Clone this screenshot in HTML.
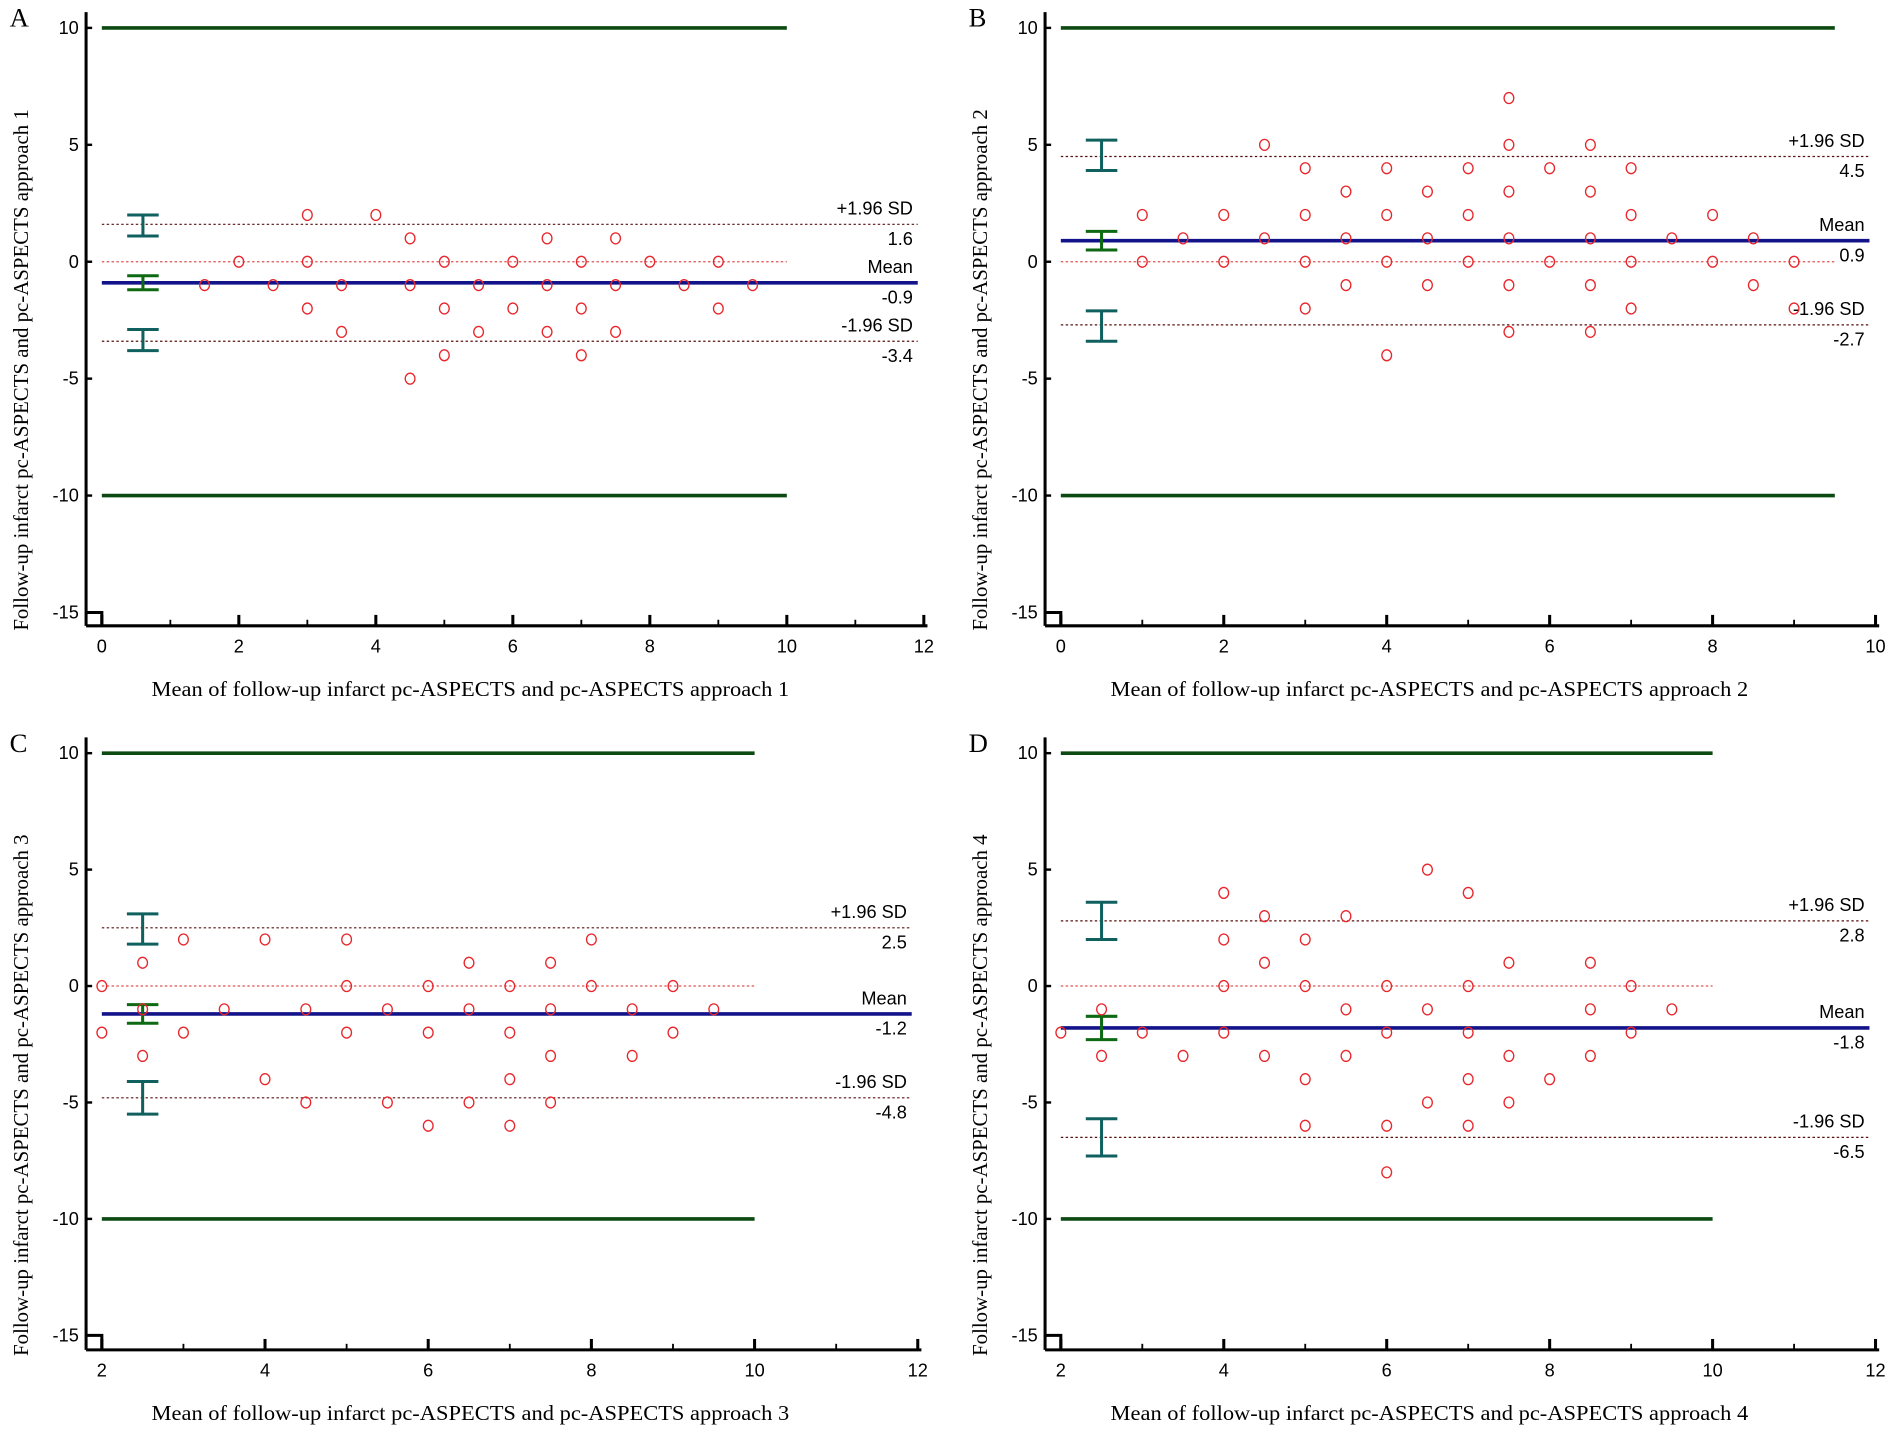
<!DOCTYPE html>
<html><head><meta charset="utf-8"><style>
html,body{margin:0;padding:0;background:#fff;}
svg{display:block;}
</style></head><body>
<svg id="fig" width="1901" height="1436" viewBox="0 0 1568 1184" preserveAspectRatio="none" xmlns="http://www.w3.org/2000/svg"></svg>
<script>
// ---- Data ----
const aX=[1.5,2,2.5,3,3,3,3.5,3.5,4,4.5,4.5,4.5,5,5,5,5.5,5.5,6,6,6.5,6.5,6.5,7,7,7,7.5,7.5,7.5,8,8.5,9,9,9.5];
const aY=[-1,0,-1,2,0,-2,-1,-3,2,1,-1,-5,0,-2,-4,-1,-3,0,-2,1,-1,-3,0,-2,-4,1,-1,-3,0,-1,0,-2,-1];
const bX=[1,1,1.5,2,2,2.5,2.5,3,3,3,3,3.5,3.5,3.5,4,4,4,4,4.5,4.5,4.5,5,5,5,5.5,5.5,5.5,5.5,5.5,5.5,6,6,6.5,6.5,6.5,6.5,6.5,7,7,7,7,7.5,8,8,8.5,8.5,9,9];
const bY=[2,0,1,2,0,5,1,4,2,0,-2,3,1,-1,4,2,0,-4,3,1,-1,4,2,0,7,5,3,1,-1,-3,4,0,5,3,1,-1,-3,4,2,0,-2,1,2,0,1,-1,0,-2];
const cX=[2,2,2.5,2.5,2.5,3,3,3.5,4,4,4.5,4.5,5,5,5,5.5,5.5,6,6,6,6.5,6.5,6.5,7,7,7,7,7.5,7.5,7.5,7.5,8,8,8.5,8.5,9,9,9.5];
const cY=[0,-2,1,-1,-3,2,-2,-1,2,-4,-1,-5,2,0,-2,-1,-5,0,-2,-6,1,-1,-5,0,-2,-4,-6,1,-1,-3,-5,2,0,-1,-3,0,-2,-1];
const dX=[2,2.5,2.5,3,3.5,4,4,4,4,4.5,4.5,4.5,5,5,5,5,5.5,5.5,5.5,6,6,6,6,6.5,6.5,6.5,7,7,7,7,7,7.5,7.5,7.5,8,8.5,8.5,8.5,9,9,9.5];
const dY=[-2,-1,-3,-2,-3,4,2,0,-2,3,1,-3,2,0,-4,-6,3,-1,-3,0,-2,-6,-8,5,-1,-5,4,0,-2,-4,-6,1,-3,-5,-4,1,-1,-3,0,-2,-1];
// mean, upper LoA, lower LoA
const meanVals=[-0.9,0.9,-1.2,-1.8];
const upperVals=[1.6,4.5,2.5,2.8];
const lowerVals=[-3.4,-2.7,-4.8,-6.5];
// confidence intervals [lo,hi] for upper, mean, lower
const upperCI=[[1.1,2.0],[3.9,5.2],[1.8,3.1],[2.0,3.6]];
const meanCI=[[-1.2,-0.6],[0.5,1.3],[-1.6,-0.8],[-2.3,-1.3]];
const lowerCI=[[-3.8,-2.9],[-3.4,-2.1],[-5.5,-4.1],[-7.3,-5.7]];
const yTicks=[10,5,0,-5,-10,-15];
const xTicksA=[0,2,4,6,8,10,12];
const xTicksC=[2,4,6,8,10,12];
const letters=["A","B","C","D"];

const NS="http://www.w3.org/2000/svg";
const svg=document.getElementById('fig');
function el(tag,attrs,parent){const e=document.createElementNS(NS,tag);for(const k in attrs)e.setAttribute(k,attrs[k]);(parent||svg).appendChild(e);return e;}

const panels=[
 {xs:aX,ys:aY,axL:71,px0:84,px1:762,xmin:0,xmax:12,top:23,bot:505,axB:516,ticks:xTicksA,greenEnd:10,ebX:0.6},
 {xs:bX,ys:bY,axL:862,px0:875,px1:1547,xmin:0,xmax:10,top:23,bot:505,axB:516,ticks:xTicksA.slice(0,6),greenEnd:9.5,ebX:0.5},
 {xs:cX,ys:cY,axL:71,px0:84,px1:757,xmin:2,xmax:12,top:621,bot:1101,axB:1113,ticks:xTicksC,greenEnd:10,ebX:2.5},
 {xs:dX,ys:dY,axL:862,px0:875,px1:1547,xmin:2,xmax:12,top:621,bot:1101,axB:1113,ticks:xTicksC,greenEnd:10,ebX:2.5}
];

panels.forEach((p,i)=>{
 const g=el('g',{});
 
 
 const sx=v=>p.px0+(v-p.xmin)*(p.px1-p.px0)/(p.xmax-p.xmin);
 const sy=v=>p.top+(10-v)*(p.bot-p.top)/25;
 const xR=p.px1;
 const L=el('text',{x:p.axL-63,y:p.top-1,'font-family':'Liberation Serif, serif','font-size':22},g);L.textContent=letters[i];
 
 const ya=el('line',{x1:p.axL,y1:p.top-13,x2:p.axL,y2:p.axB,stroke:'#000','stroke-width':2.5},g);
 
 const xa=el('line',{x1:p.axL,y1:p.axB,x2:xR+3,y2:p.axB,stroke:'#000','stroke-width':2.5},g);
 
 el('polyline',{points:`${p.axL},${sy(-15)} ${sx(p.xmin)},${sy(-15)} ${sx(p.xmin)},${p.axB}`,fill:'none',stroke:'#000','stroke-width':2.5},g);
 yTicks.forEach(t=>{
  el('line',{x1:p.axL,y1:sy(t),x2:p.axL+5,y2:sy(t),stroke:'#000','stroke-width':2},g);
  const tx=el('text',{x:p.axL-6,y:sy(t)+5,'text-anchor':'end','font-family':'Liberation Sans, sans-serif','font-size':15},g);
  tx.textContent=t;
 });
 for(let v=p.xmin;v<=p.xmax;v++){
  const major=p.ticks.includes(v);
  el('line',{x1:sx(v),y1:p.axB,x2:sx(v),y2:p.axB-(major?9:5),stroke:'#000','stroke-width':major?2.5:1.5},g);
 }
 p.ticks.forEach(t=>{
  const tx=el('text',{x:sx(t),y:p.axB+22,'text-anchor':'middle','font-family':'Liberation Sans, sans-serif','font-size':15},g);
  tx.textContent=t;
 });
 const cx=p.axL+317;
 const xt=el('text',{x:cx,y:p.axB+58,'text-anchor':'middle','font-family':'Liberation Serif, serif','font-size':17,textLength:526,lengthAdjust:'spacingAndGlyphs'},g);
 xt.textContent='Mean of follow-up infarct pc-ASPECTS and pc-ASPECTS approach '+(i+1);
 
 const cy=p.top+282;
 const ytt=el('text',{x:0,y:0,transform:`translate(${p.axL-48},${cy}) rotate(-90)`,'text-anchor':'middle','font-family':'Liberation Serif, serif','font-size':17,textLength:430,lengthAdjust:'spacingAndGlyphs'},g);
 ytt.textContent='Follow-up infarct pc-ASPECTS and pc-ASPECTS approach '+(i+1);
 
 [10,-10].forEach(v=>{
  const ln=el('line',{x1:sx(p.xmin),y1:sy(v),x2:sx(p.greenEnd),y2:sy(v),stroke:'#0d4a12','stroke-width':3},g);
  
 });
 const z=el('line',{x1:sx(p.xmin),y1:sy(0),x2:sx(p.greenEnd),y2:sy(0),stroke:'#e05050','stroke-width':1,'stroke-dasharray':'2,2'},g);
 
 [upperVals[i],lowerVals[i]].forEach((v,k)=>{
  const ln=el('line',{x1:sx(p.xmin),y1:sy(v),x2:xR-5,y2:sy(v),stroke:'#5a1010','stroke-width':1,'stroke-dasharray':'2,2'},g);
  
  const t1=el('text',{x:xR-9,y:sy(v)-8,'text-anchor':'end','font-family':'Liberation Sans, sans-serif','font-size':15},g);
  t1.textContent=k?'-1.96 SD':'+1.96 SD';
  const t2=el('text',{x:xR-9,y:sy(v)+17,'text-anchor':'end','font-family':'Liberation Sans, sans-serif','font-size':15},g);
  t2.textContent=v.toFixed(1);
 });
 const m=meanVals[i];
 const ml=el('line',{x1:sx(p.xmin),y1:sy(m),x2:xR-5,y2:sy(m),stroke:'#14148a','stroke-width':3},g);
 
 const mt=el('text',{x:xR-9,y:sy(m)-8,'text-anchor':'end','font-family':'Liberation Sans, sans-serif','font-size':15},g);
 mt.textContent='Mean';
 const mv=el('text',{x:xR-9,y:sy(m)+17,'text-anchor':'end','font-family':'Liberation Sans, sans-serif','font-size':15},g);
 mv.textContent=m.toFixed(1);
 [[upperCI[i],'#116060'],[meanCI[i],'#0d6a12'],[lowerCI[i],'#116060']].forEach(([ci,col],k)=>{
  const ex=sx(p.ebX);
  const eg=el('g',{stroke:col,'stroke-width':2.5},g);
  
  
  el('line',{x1:ex,y1:sy(ci[0]),x2:ex,y2:sy(ci[1])},eg);
  el('line',{x1:ex-13,y1:sy(ci[0]),x2:ex+13,y2:sy(ci[0])},eg);
  el('line',{x1:ex-13,y1:sy(ci[1]),x2:ex+13,y2:sy(ci[1])},eg);
 });
 p.xs.forEach((x,j)=>{
  const c=el('ellipse',{cx:sx(x),cy:sy(p.ys[j]),rx:4,ry:4.5,fill:'none',stroke:'#e8262b','stroke-width':1.1},g);
  
  
 });
});
</script>
</body></html>
